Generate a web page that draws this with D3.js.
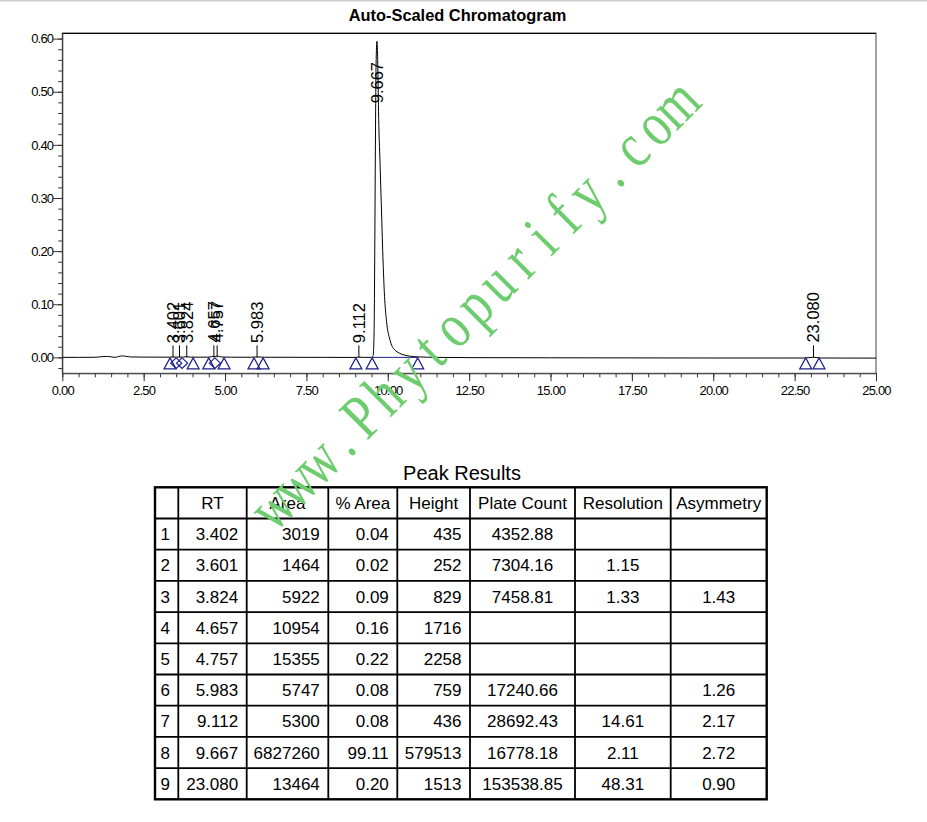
<!DOCTYPE html>
<html><head><meta charset="utf-8">
<script src="https://cdn.jsdelivr.net/npm/d3@7"></script>
<style>body{margin:0;background:#fff;}svg{display:block;}</style>
</head><body>
<svg id="chart" width="927" height="822"></svg>
<script>
// ---------------- DATA ----------------
const chartTitle = "Auto-Scaled Chromatogram";
const tableTitle = "Peak Results";
const xTickValues = [0, 2.5, 5, 7.5, 10, 12.5, 15, 17.5, 20, 22.5, 25];
const yTickValues = [0, 0.1, 0.2, 0.3, 0.4, 0.5, 0.6];

// detector trace (minutes, AU)
const traceTime = [0.00, 0.50, 1.00, 1.20, 1.35, 1.50, 1.62, 1.72, 1.85, 1.95, 2.10, 2.50, 3.00, 3.30, 3.40, 3.50, 3.60, 3.70, 3.82, 3.95, 4.20, 4.50, 4.66, 4.70, 4.76, 4.90, 5.20, 5.80, 5.98, 6.20, 7.00, 8.00, 9.00, 9.11, 9.25, 9.50, 9.55, 9.58, 9.60, 9.62, 9.64, 9.667, 9.69, 9.72, 9.76, 9.80, 9.85, 9.90, 9.95, 10.00, 10.04, 10.10, 10.17, 10.25, 10.37, 10.50, 10.70, 10.90, 11.50, 12.50, 15.00, 17.50, 20.00, 22.00, 22.80, 23.08, 23.30, 24.00, 25.00];
const traceAU = [0.0000, 0.0000, 0.0002, 0.0012, 0.0018, 0.0010, 0.0000, 0.0015, 0.0028, 0.0020, 0.0008, 0.0005, 0.0004, 0.0004, 0.0008, 0.0005, 0.0007, 0.0005, 0.0012, 0.0004, 0.0003, 0.0004, 0.0019, 0.0016, 0.0024, 0.0006, 0.0003, 0.0002, 0.0009, 0.0002, 0.0001, 0.0000, -0.0001, 0.0004, 0.0000, 0.0000, 0.0030, 0.0500, 0.2000, 0.4000, 0.5500, 0.5950, 0.5600, 0.4500, 0.3700, 0.2900, 0.1900, 0.1150, 0.0750, 0.0500, 0.0390, 0.0260, 0.0170, 0.0120, 0.0075, 0.0045, 0.0020, 0.0010, 0.0000, -0.0005, -0.0008, -0.0010, -0.0012, -0.0012, -0.0012, 0.0003, -0.0012, -0.0013, -0.0014];

// integration marks (peak start / valley / end)
const markTime = [3.31, 3.50, 3.68, 4.02, 4.50, 4.69, 4.97, 5.89, 6.17, 9.02, 9.52, 10.92, 22.84, 23.25];
const markKind = ["tri", "dia", "dia", "tri", "tri", "dia", "tri", "tri", "tri", "tri", "tri", "tri", "tri", "tri"];
const baselineFrom = [9.52];
const baselineTo = [10.92];

// peak table
const peakNo = ["1", "2", "3", "4", "5", "6", "7", "8", "9"];
const peakRT = ["3.402", "3.601", "3.824", "4.657", "4.757", "5.983", "9.112", "9.667", "23.080"];
const peakArea = ["3019", "1464", "5922", "10954", "15355", "5747", "5300", "6827260", "13464"];
const peakPctArea = ["0.04", "0.02", "0.09", "0.16", "0.22", "0.08", "0.08", "99.11", "0.20"];
const peakHeight = ["435", "252", "829", "1716", "2258", "759", "436", "579513", "1513"];
const peakPlates = ["4352.88", "7304.16", "7458.81", "", "", "17240.66", "28692.43", "16778.18", "153538.85"];
const peakResolution = ["", "1.15", "1.33", "", "", "", "14.61", "2.11", "48.31"];
const peakAsymmetry = ["", "", "1.43", "", "", "1.26", "2.17", "2.72", "0.90"];
const tableHeader = ["", "RT", "Area", "% Area", "Height", "Plate Count", "Resolution", "Asymmetry"];

const watermark = "www.Phytopurify.com";

// ---------------- LAYOUT ----------------
const svg = d3.select("#chart");
const W = 927, H = 822;
const plot = {left: 62.3, right: 876, top: 33.3, bottom: 373.3};
const sans = "'Liberation Sans', Arial, sans-serif";
const markColor = "#1f1f8c";

svg.append("rect").attr("x", 0).attr("y", 0).attr("width", W).attr("height", H).attr("fill", "#fff");
svg.append("rect").attr("x", 0).attr("y", 0).attr("width", W).attr("height", 1.5).attr("fill", "#cfcfcf");

const x = d3.scaleLinear().domain([0, 25]).range([plot.left, plot.right]);
const y = d3.scaleLinear().domain([-0.03, 0.61]).range([plot.bottom, plot.top]);

// title
svg.append("text").attr("x", 457.5).attr("y", 21)
  .attr("text-anchor", "middle").attr("font-family", sans).attr("font-weight", "bold")
  .attr("font-size", 16.4).text(chartTitle);

// frame
svg.append("rect").attr("x", plot.left).attr("y", plot.top)
  .attr("width", plot.right - plot.left).attr("height", plot.bottom - plot.top)
  .attr("fill", "none").attr("stroke", "#444").attr("stroke-width", 1);
svg.append("line").attr("x1", plot.left).attr("x2", plot.right).attr("y1", plot.top).attr("y2", plot.top)
  .attr("stroke", "#000").attr("stroke-width", 1.2);

// y axis
const yMinor = d3.range(-0.02, 0.6001, 0.02);
svg.append("g").attr("transform", `translate(${plot.left},0)`)
  .call(d3.axisLeft(y).tickValues(yMinor).tickSize(4).tickFormat("").tickSizeOuter(0))
  .call(g => { g.select(".domain").remove(); g.selectAll("line").attr("stroke", "#333"); });
const yAx = svg.append("g").attr("transform", `translate(${plot.left},0)`)
  .call(d3.axisLeft(y).tickValues(yTickValues).tickSize(9).tickPadding(0).tickFormat(d3.format(".2f")).tickSizeOuter(0));
yAx.select(".domain").attr("stroke", "#333");
yAx.selectAll("line").attr("stroke", "#333");
yAx.selectAll("text").attr("font-family", sans).attr("font-size", 13).attr("letter-spacing", -0.8).attr("fill", "#000");

// x axis
const xMinor = d3.range(0, 25.001, 0.5);
svg.append("g").attr("transform", `translate(0,${plot.bottom})`)
  .call(d3.axisBottom(x).tickValues(xMinor).tickSize(4).tickFormat("").tickSizeOuter(0))
  .call(g => { g.select(".domain").remove(); g.selectAll("line").attr("stroke", "#333"); });
const xAx = svg.append("g").attr("transform", `translate(0,${plot.bottom})`)
  .call(d3.axisBottom(x).tickValues(xTickValues).tickSize(8).tickPadding(4).tickFormat(d3.format(".2f")).tickSizeOuter(0));
xAx.select(".domain").attr("stroke", "#444");
xAx.selectAll("line").attr("stroke", "#333");
xAx.selectAll("text").attr("font-family", sans).attr("font-size", 13).attr("letter-spacing", -0.8).attr("fill", "#000");

// baseline of main peak integration
baselineFrom.forEach((t0, i) => {
  svg.append("line").attr("x1", x(t0)).attr("x2", x(baselineTo[i])).attr("y1", y(0)).attr("y2", y(0))
    .attr("stroke", markColor).attr("stroke-width", 1);
});

// trace
const trace = traceTime.map((t, i) => [t, traceAU[i]]);
svg.append("path").datum(trace)
  .attr("d", d3.line().x(d => x(d[0])).y(d => y(d[1])).curve(d3.curveMonotoneX))
  .attr("fill", "none").attr("stroke", "#000").attr("stroke-width", 1);

// integration marks
const markG = svg.append("g");
markTime.forEach((t, i) => {
  const cx = x(t), cy = y(0);
  const p = d3.path();
  if (markKind[i] === "tri") {
    p.moveTo(cx, cy + 0.5); p.lineTo(cx + 6, cy + 11.5); p.lineTo(cx - 6, cy + 11.5); p.closePath();
  } else {
    p.moveTo(cx, cy + 0.5); p.lineTo(cx + 5.5, cy + 5.8); p.lineTo(cx, cy + 11); p.lineTo(cx - 5.5, cy + 5.8); p.closePath();
  }
  markG.append("path").attr("d", p.toString()).attr("fill", "none")
    .attr("stroke", markColor).attr("stroke-width", 1.2);
});

// peak labels
peakRT.forEach((rt, i) => {
  const t = +rt, h = +peakHeight[i] / 1e6;
  const base = y(0);
  const ys = Math.max(y(h) - 14, plot.top + 70);
  if (ys > base - 20) {
    svg.append("line").attr("x1", x(t)).attr("x2", x(t)).attr("y1", base - 12).attr("y2", base)
      .attr("stroke", "#000").attr("stroke-width", 1);
  }
  svg.append("text").attr("transform", `translate(${x(t)},${ys}) rotate(-90)`)
    .attr("dy", "0.36em").attr("font-family", sans).attr("font-size", 16.5)
    .attr("fill", "#000").text(rt);
});

// ---------------- TABLE ----------------
svg.append("text").attr("x", 462).attr("y", 480).attr("text-anchor", "middle")
  .attr("font-family", sans).attr("font-size", 20).text(tableTitle);

const colEdges = [155, 178.3, 246.7, 328.3, 397.3, 470, 575, 670.7, 766.7];
const colAlign = ["start", "end", "end", "end", "end", "middle", "middle", "middle"];
const rowScale = d3.scaleBand().domain(d3.range(10)).range([487.3, 799.3]).padding(0);
const columns = [peakNo, peakRT, peakArea, peakPctArea, peakHeight, peakPlates, peakResolution, peakAsymmetry];
const tableG = svg.append("g").attr("font-family", sans).attr("font-size", 17).attr("fill", "#000");

function cellX(c, align) {
  if (align === "start") return colEdges[c] + 5.5;
  if (align === "end") return colEdges[c + 1] - 8.5;
  return (colEdges[c] + colEdges[c + 1]) / 2;
}
tableHeader.forEach((h, c) => {
  tableG.append("text").attr("x", cellX(c, "middle")).attr("y", rowScale(0) + rowScale.bandwidth() / 2)
    .attr("dy", "0.36em").attr("text-anchor", "middle").text(h);
});
columns.forEach((col, c) => {
  col.forEach((v, r) => {
    if (v === "") return;
    tableG.append("text").attr("x", cellX(c, colAlign[c]))
      .attr("y", rowScale(r + 1) + rowScale.bandwidth() / 2)
      .attr("dy", "0.36em").attr("text-anchor", colAlign[c]).text(v);
  });
});
const gridG = svg.append("g").attr("stroke", "#000");
d3.range(1, 10).forEach(r => {
  gridG.append("line").attr("x1", colEdges[0]).attr("x2", colEdges[colEdges.length - 1])
    .attr("y1", rowScale(r)).attr("y2", rowScale(r)).attr("stroke-width", 1.8);
});
colEdges.slice(1, -1).forEach(cx => {
  gridG.append("line").attr("x1", cx).attr("x2", cx)
    .attr("y1", rowScale(0)).attr("y2", rowScale(9) + rowScale.bandwidth()).attr("stroke-width", 1.8);
});
gridG.append("rect").attr("x", colEdges[0]).attr("y", rowScale(0))
  .attr("width", colEdges[colEdges.length - 1] - colEdges[0])
  .attr("height", rowScale.bandwidth() * 10).attr("fill", "none").attr("stroke-width", 2.4);

// ---------------- WATERMARK ----------------
const wmChars = watermark.split("");
const pitch = 31.67;
const wmG = svg.append("g").attr("transform", "translate(488.5,319.5) rotate(-45)")
  .attr("font-family", "'Liberation Serif', 'Times New Roman', serif").attr("font-size", 64)
  .attr("fill", "#6dcc6d").attr("text-anchor", "middle");
wmChars.forEach((ch, i) => {
  wmG.append("text")
    .attr("transform", `translate(${(i - (wmChars.length - 1) / 2) * pitch},0) scale(0.78,1)`)
    .text(ch);
});
</script>
</body></html>
